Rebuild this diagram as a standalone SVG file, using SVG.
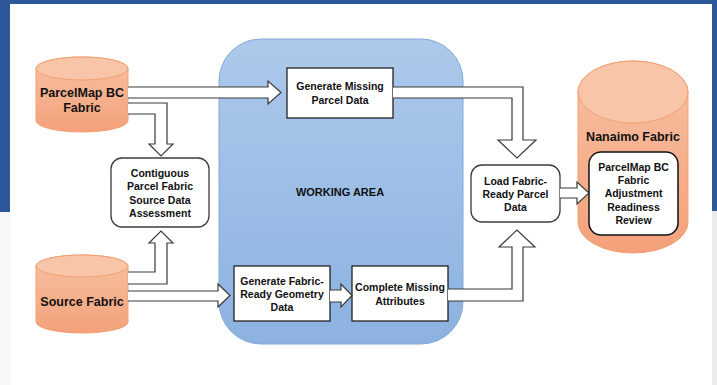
<svg xmlns="http://www.w3.org/2000/svg" width="717" height="385" viewBox="0 0 717 385">
<defs>
<linearGradient id="wa" x1="0" y1="0" x2="0" y2="1">
<stop offset="0" stop-color="#adc9eb"/>
<stop offset="1" stop-color="#8cb2e1"/>
</linearGradient>
<linearGradient id="cyl" x1="0" y1="0" x2="0" y2="1">
<stop offset="0" stop-color="#f7c1a3"/>
<stop offset="1" stop-color="#f4a17b"/>
</linearGradient>
<style>
.cylb{fill:url(#cyl);stroke:#f2a070;stroke-width:1}
.cylt{fill:#f8c5a9;stroke:#f2a070;stroke-width:1}
.t{font-family:"Liberation Sans",Arial,sans-serif;font-weight:bold;fill:#111;text-anchor:middle}
.big{font-size:12.5px}
.sm{font-size:10.5px}
.rbox{fill:#fff;stroke:#3c3c3c;stroke-width:1.3}
.sbox{fill:#fff;stroke:#222;stroke-width:1.3}
.arr{fill:#fff;stroke:#3a3a3a;stroke-width:1.2;stroke-linejoin:miter}
</style>
</defs>
<g id="background">
<rect x="0" y="0" width="717" height="385" fill="#ffffff"/>
<rect x="0" y="0" width="717" height="4" fill="#2d5899"/>
<rect x="0" y="0" width="10" height="212" fill="#2d5899"/>
<rect x="712" y="0" width="5" height="211" fill="#2d5899"/>
<rect x="0" y="212" width="10" height="173" fill="#f7f7f7"/>
<rect x="712" y="211" width="5" height="174" fill="#ebebeb"/>
</g>
<g id="working-area">
<rect x="219" y="39" width="244" height="305" rx="42" ry="42" fill="url(#wa)" stroke="#84a9d8" stroke-width="1"/>
<text class="t" x="340" y="196" font-size="11px">WORKING AREA</text>
</g>
<g id="parcelmap-bc-fabric">
<path class="cylb" d="M36,68.5 A46,11.5 0 0 1 128,68.5 V120.5 A46,11.5 0 0 1 36,120.5 Z"/>
<ellipse class="cylt" cx="82" cy="68.5" rx="46" ry="11.5"/>
<text class="t big" x="82" y="96.5">ParcelMap BC</text>
<text class="t big" x="82" y="111.5">Fabric</text>
</g>
<g id="source-fabric">
<path class="cylb" d="M36,266 A46,11 0 0 1 128,266 V322 A46,11 0 0 1 36,322 Z"/>
<ellipse class="cylt" cx="82" cy="266" rx="46" ry="11"/>
<text class="t big" x="82" y="305.5">Source Fabric</text>
</g>
<g id="contiguous">
<rect class="rbox" x="111" y="158" width="98" height="69" rx="11" ry="11"/>
<text class="t sm" x="160" y="177">Contiguous</text>
<text class="t sm" x="160" y="190.3">Parcel Fabric</text>
<text class="t sm" x="160" y="203.6">Source Data</text>
<text class="t sm" x="160" y="216.9">Assessment</text>
</g>
<g id="generate-missing">
<rect class="sbox" x="287" y="68" width="106" height="50"/>
<text class="t sm" x="340" y="90">Generate Missing</text>
<text class="t sm" x="340" y="104">Parcel Data</text>
</g>
<g id="generate-fabric-ready">
<rect class="sbox" x="234" y="266" width="96" height="55"/>
<text class="t sm" x="282" y="285">Generate Fabric-</text>
<text class="t sm" x="282" y="298">Ready Geometry</text>
<text class="t sm" x="282" y="311">Data</text>
</g>
<g id="complete-missing">
<rect class="sbox" x="352" y="266" width="96" height="55"/>
<text class="t sm" x="400" y="291">Complete Missing</text>
<text class="t sm" x="400" y="305">Attributes</text>
</g>
<g id="load-fabric-ready">
<rect class="rbox" x="471" y="165" width="89" height="57" rx="11" ry="11"/>
<text class="t sm" x="515.5" y="185">Load Fabric-</text>
<text class="t sm" x="515.5" y="198">Ready Parcel</text>
<text class="t sm" x="515.5" y="211">Data</text>
</g>
<g id="nanaimo-fabric">
<path class="cylb" d="M578,92 A55,31 0 0 1 688,92 V222 A55,31 0 0 1 578,222 Z"/>
<ellipse class="cylt" cx="633" cy="92" rx="55" ry="31"/>
<text class="t big" x="633" y="140.5">Nanaimo Fabric</text>
<rect x="589" y="152" width="89" height="83" rx="12" ry="12" fill="#fff" stroke="#111" stroke-width="1.5"/>
<text class="t sm" x="633.5" y="171">ParcelMap BC</text>
<text class="t sm" x="633.5" y="184">Fabric</text>
<text class="t sm" x="633.5" y="197">Adjustment</text>
<text class="t sm" x="633.5" y="211">Readiness</text>
<text class="t sm" x="633.5" y="224">Review</text>
</g>
<g id="connectors">
<path class="arr" d="M128,87 H268 V81 L281,92.5 L268,104 V98 H128"/>
<path class="arr" d="M128,103 H167 V144 H173 L161,156 L149,144 H155 V114 H128"/>
<path class="arr" d="M128,272 H155 V243 H149 L161,231 L173,243 H167 V284 H128"/>
<path class="arr" d="M128,291 H218 V284 L230,295.5 L218,307 V301 H128"/>
<path class="arr" d="M330,290 H341 V284 L352,295.5 L341,307 V302 H330"/>
<path class="arr" d="M448,289 H512 V247 H499 L517,230 L535,247 H523 V301 H448"/>
<path class="arr" d="M393,87 H523 V140 H536 L517,158 L498,140 H512 V98 H393"/>
<path class="arr" d="M560,188 H577 V182 L589,193 L577,204 V198 H560"/>
</g>
</svg>
